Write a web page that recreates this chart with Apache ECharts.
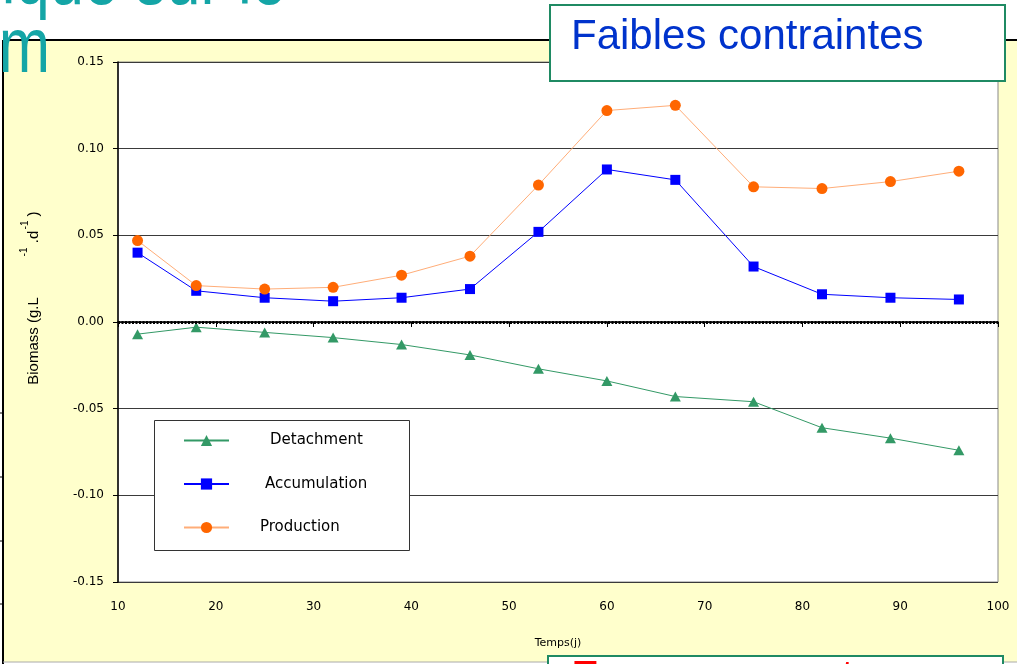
<!DOCTYPE html>
<html>
<head>
<meta charset="utf-8">
<title>Biomass</title>
<script src="https://cdn.jsdelivr.net/npm/echarts@6/dist/echarts.min.js"></script>
<style>
  html, body { margin: 0; padding: 0; background: #ffffff; }
  #chart { width: 1017px; height: 664px; }
</style>
</head>
<body>
<div id="chart"></div>
<script>
// jours de prélèvement
const days = [12, 18, 25, 32, 39, 46, 53, 60, 67, 75, 82, 89, 96];
const detachment = [-0.007, -0.003, -0.006, -0.009, -0.013, -0.019, -0.027, -0.034, -0.043, -0.046, -0.061, -0.067, -0.074];
const accumulation = [0.040, 0.018, 0.014, 0.012, 0.014, 0.019, 0.052, 0.088, 0.082, 0.032, 0.016, 0.014, 0.013];
const production = [0.047, 0.021, 0.019, 0.020, 0.027, 0.038, 0.079, 0.122, 0.125, 0.078, 0.077, 0.081, 0.087];
const seriesNames = ["Detachment", "Accumulation", "Production"];
const yTicks = { min: -0.15, max: 0.15, step: 0.05 };
const xTicks = { min: 10, max: 100, step: 10 };

const pairs = (ys) => days.map((d, i) => [d, ys[i]]);

const font = "'DejaVu Sans', sans-serif";
const teal = "#14a5a6";

let myChart = echarts.init(document.getElementById("chart"));

let option = {
  backgroundColor: "#ffffff",
  animation: false,
  grid: {
    left: 118,
    right: 19,
    top: 62,
    bottom: 82,
    show: true,
    backgroundColor: "#ffffff",
    borderColor: "#888888",
    borderWidth: 1,
  },
  legend: {
    data: seriesNames,
    orient: "vertical",
    left: 183,
    top: 433,
    padding: 0,
    itemWidth: 45,
    itemHeight: 14,
    itemGap: 28.5,
    formatter: (name) => "{" + name.slice(0, 3).toLowerCase() + "|" + name + "}",
    textStyle: {
      fontFamily: font,
      fontSize: 15,
      color: "#000",
      rich: {
        det: { fontFamily: font, fontSize: 15, color: "#000", padding: [0, 0, 0, 36] },
        acc: { fontFamily: font, fontSize: 15, color: "#000", padding: [0, 0, 0, 31] },
        pro: { fontFamily: font, fontSize: 15, color: "#000", padding: [0, 0, 0, 26] },
      },
    },
    z: 20,
  },
  xAxis: {
    type: "value",
    min: xTicks.min,
    max: xTicks.max,
    interval: xTicks.step,
    name: "Temps(j)",
    nameLocation: "middle",
    nameGap: 56,
    nameTextStyle: { fontFamily: font, fontSize: 11, color: "#000" },
    axisLine: { lineStyle: { color: "#000", width: 1.5 } },
    axisTick: { show: true, inside: false, length: 5, lineStyle: { color: "#000" } },
    axisLabel: { fontFamily: font, fontSize: 12, color: "#000", margin: 19 },
    splitLine: { show: false },
  },
  yAxis: {
    type: "value",
    min: yTicks.min,
    max: yTicks.max,
    interval: yTicks.step,
    axisLine: { show: true, lineStyle: { color: "#000", width: 1.5 } },
    axisTick: { show: true, inside: false, length: 5, lineStyle: { color: "#000" } },
    axisLabel: {
      fontFamily: font,
      fontSize: 12,
      color: "#000",
      margin: 14,
      formatter: (v) => v.toFixed(2),
    },
    splitLine: { show: true, lineStyle: { color: "#3a3a3a", width: 1 } },
  },
  series: [
    {
      name: "Detachment",
      type: "line",
      data: pairs(detachment),
      symbol: "triangle",
      symbolSize: [11, 10],
      itemStyle: { color: "#339966" },
      lineStyle: { color: "#339966", width: 1 },
      // ligne zéro en pointillé
      markLine: {
        silent: true,
        symbol: ["none", "none"],
        label: { show: false },
        lineStyle: { color: "#000", width: 3, type: [2, 1.5] },
        data: [{ yAxis: 0 }],
      },
    },
    {
      name: "Accumulation",
      type: "line",
      data: pairs(accumulation),
      symbol: "rect",
      symbolSize: 10,
      itemStyle: { color: "#0000ff" },
      lineStyle: { color: "#0000ff", width: 1 },
    },
    {
      name: "Production",
      type: "line",
      data: pairs(production),
      symbol: "circle",
      symbolSize: 11,
      itemStyle: { color: "#ff6600" },
      lineStyle: { color: "#ffad78", width: 1 },
    },
  ],
  graphic: [
    // fond jaune de la diapo
    { type: "rect", z: -10, shape: { x: 3, y: 40, width: 1020, height: 622 }, style: { fill: "#ffffcc" } },
    { type: "line", z: -9, shape: { x1: 3, y1: 40, x2: 1017, y2: 40 }, style: { stroke: "#000", lineWidth: 2 } },
    { type: "line", z: -9, shape: { x1: 3, y1: 40, x2: 3, y2: 664 }, style: { stroke: "#000", lineWidth: 2 } },
    { type: "line", z: -9, shape: { x1: 3, y1: 662, x2: 1017, y2: 662 }, style: { stroke: "#aaaaaa", lineWidth: 1 } },
    { type: "line", z: -9, shape: { x1: 0, y1: 413, x2: 3, y2: 413 }, style: { stroke: "#000", lineWidth: 1 } },
    { type: "line", z: -9, shape: { x1: 0, y1: 477, x2: 3, y2: 477 }, style: { stroke: "#000", lineWidth: 1 } },
    { type: "line", z: -9, shape: { x1: 0, y1: 541, x2: 3, y2: 541 }, style: { stroke: "#000", lineWidth: 1 } },
    { type: "line", z: -9, shape: { x1: 0, y1: 604, x2: 3, y2: 604 }, style: { stroke: "#000", lineWidth: 1 } },

    // titre de l'axe y avec exposants
    { type: "text", z: 10, x: 34, y: 341, rotation: Math.PI / 2,
      style: { text: "Biomass (g.L", font: "15px 'Liberation Sans', sans-serif", fill: "#000", align: "center", verticalAlign: "middle" } },
    { type: "text", z: 10, x: 24, y: 252, rotation: Math.PI / 2,
      style: { text: "-1", font: "10px 'Liberation Sans', sans-serif", fill: "#000", align: "center", verticalAlign: "middle" } },
    { type: "text", z: 10, x: 34, y: 237, rotation: Math.PI / 2,
      style: { text: ".d", font: "15px 'Liberation Sans', sans-serif", fill: "#000", align: "center", verticalAlign: "middle" } },
    { type: "text", z: 10, x: 25, y: 225, rotation: Math.PI / 2,
      style: { text: "-1", font: "10px 'Liberation Sans', sans-serif", fill: "#000", align: "center", verticalAlign: "middle" } },
    { type: "text", z: 10, x: 34, y: 214, rotation: Math.PI / 2,
      style: { text: ")", font: "15px 'Liberation Sans', sans-serif", fill: "#000", align: "center", verticalAlign: "middle" } },

    // cadre de la légende
    { type: "rect", z: 5, shape: { x: 154.5, y: 420.5, width: 255, height: 130 },
      style: { fill: "#ffffff", stroke: "#333333", lineWidth: 1 } },

    // texte de la diapo autour du graphique (police étroite simulée par scaleX)
    { type: "text", z: 100, x: 286, y: -56, scaleX: 0.8,
      style: { text: "dynamique sur le", font: "77px 'Liberation Sans', sans-serif", fill: teal, align: "right", verticalAlign: "top" } },
    { type: "text", z: 100, x: 50, y: 12, scaleX: 0.8,
      style: { text: "biofilm", font: "77px 'Liberation Sans', sans-serif", fill: teal, align: "right", verticalAlign: "top" } },

    { type: "rect", z: 100, shape: { x: 550, y: 5, width: 455, height: 76 },
      style: { fill: "#ffffff", stroke: "#1f8a63", lineWidth: 2 } },
    { type: "text", z: 101, x: 571, y: 16,
      style: { text: "Faibles contraintes", font: "42px 'Liberation Sans', sans-serif", fill: "#0033cc", verticalAlign: "top" } },

    { type: "rect", z: 100, shape: { x: 548, y: 656, width: 455, height: 76 },
      style: { fill: "#ffffff", stroke: "#1f8a63", lineWidth: 2 } },
    { type: "text", z: 101, x: 571, y: 657,
      style: { text: "Eaux en amont", font: "42px 'Liberation Sans', sans-serif", fill: "#ff0000", verticalAlign: "top" } },
  ],
};

option && myChart.setOption(option);
</script>
</body>
</html>
